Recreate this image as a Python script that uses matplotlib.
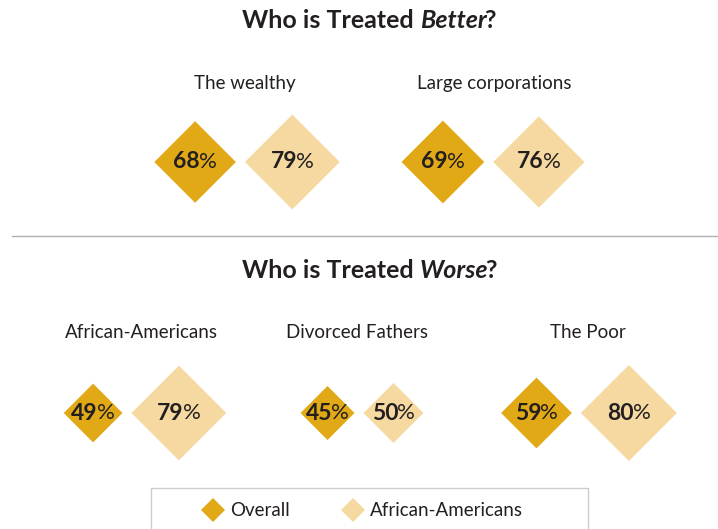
import matplotlib.pyplot as plt
from matplotlib.patches import Polygon, Rectangle

plt.rcParams['font.family'] = ['Lato', 'DejaVu Sans']

# data
better_groups = ['The wealthy', 'Large corporations']
better_overall = [68, 69]
better_aa = [79, 76]

worse_groups = ['African-Americans', 'Divorced Fathers', 'The Poor']
worse_overall = [49, 45, 59]
worse_aa = [79, 50, 80]

series_names = ['Overall', 'African-Americans']
dark = '#E2A917'
light = '#F6D9A0'
text_col = '#231f20'

fig = plt.figure(figsize=(7.18, 5.29), dpi=100)
ax = fig.add_axes([0, 0, 1, 1])
ax.set_xlim(0, 718)
ax.set_ylim(529, 0)
ax.axis('off')

scale = 0.6  # half-diagonal in px per percent

fig.canvas.draw()
renderer = fig.canvas.get_renderer()


def diamond(cx, cy, val, color):
    r = val * scale
    ax.add_patch(Polygon([(cx - r, cy), (cx, cy - r), (cx + r, cy), (cx, cy + r)],
                         closed=True, facecolor=color, edgecolor='none'))


def run_text(cx, cy, parts):
    # parts: list of (string, kwargs, kern); placed side by side, centred on cx
    ts = [ax.text(0, cy, s, va='center', color=text_col, **kw) for s, kw, k in parts]
    ws = [t.get_window_extent(renderer).width - k for t, (s, kw, k) in zip(ts, parts)]
    x = cx - sum(ws) / 2
    for t, w in zip(ts, ws):
        t.set_x(x)
        x += w


def pct_label(cx, cy, val):
    run_text(cx, cy, [(str(val), dict(fontsize=16.5, fontweight='bold'), 1),
                      ('%', dict(fontsize=16), 0)])


def group(cx_lab, cx, label, y_label, y_row, ov, aa):
    ax.text(cx_lab, y_label, label, ha='center', va='center', fontsize=13.5, color=text_col)
    r1, r2 = ov * scale, aa * scale
    gap = 9
    total = 2 * r1 + gap + 2 * r2
    x1 = cx - total / 2 + r1
    x2 = x1 + r1 + gap + r2
    diamond(x1, y_row, ov, dark)
    diamond(x2, y_row, aa, light)
    pct_label(x1, y_row, ov)
    pct_label(x2, y_row, aa)


def title(y, word):
    run_text(369, y, [('Who is Treated ', dict(fontsize=18, fontweight='bold'), 0),
                      (word, dict(fontsize=18, fontweight='bold', style='italic'), 3),
                      ('?', dict(fontsize=18, fontweight='bold'), 0)])


# top section
title(20, 'Better')
for cl, cx, lab, ov, aa in zip([245, 494], [247, 493], better_groups, better_overall, better_aa):
    group(cl, cx, lab, 83, 162, ov, aa)

ax.plot([12, 718], [236, 236], color='#b0b0b0', lw=1)

# bottom section
title(271, 'Worse')
for cl, cx, lab, ov, aa in zip([141, 357, 588], [145, 362, 589], worse_groups, worse_overall, worse_aa):
    group(cl, cx, lab, 332, 413, ov, aa)

# legend
ax.add_patch(Rectangle((151, 488), 437, 45, facecolor='none', edgecolor='#cccccc', lw=1))
for x, name, col in zip([213, 353], series_names, [dark, light]):
    ax.plot(x, 510, marker='D', markersize=12, color=col, markeredgewidth=0)
    ax.text(x + 17, 510, name, va='center', fontsize=13.5, color=text_col)

fig.savefig('out.png', dpi=100)
